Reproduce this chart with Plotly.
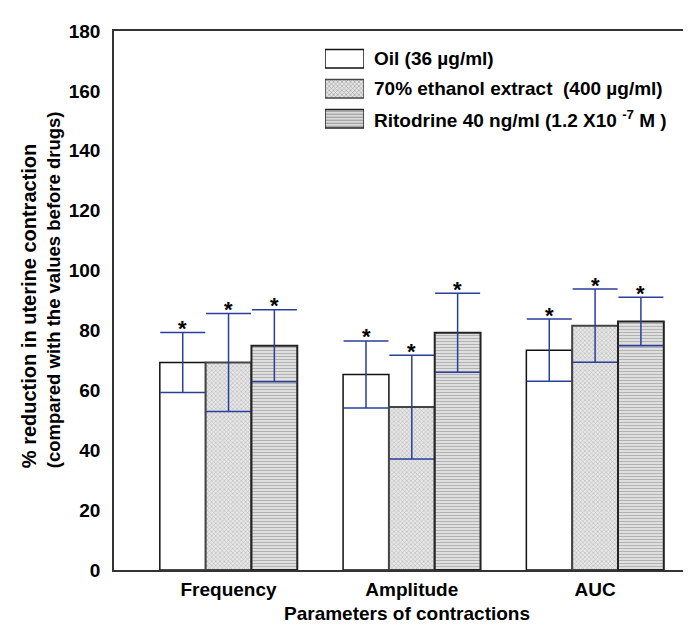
import plotly.graph_objects as go

# ---- data ----
categories = ["Frequency", "Amplitude", "AUC"]
series_names = ["Oil (36 µg/ml)", "70% ethanol extract &nbsp;(400 µg/ml)",
                "Ritodrine 40 ng/ml (1.2 X10 <sup>-7</sup> M )"]
oil_mean = [69.3, 65.3, 73.4]
oil_sd = [10.0, 11.2, 10.4]
ethanol_mean = [69.3, 54.4, 81.6]
ethanol_sd = [16.4, 17.3, 12.2]
ritodrine_mean = [74.9, 79.2, 83.0]
ritodrine_sd = [12.0, 13.2, 8.1]
significance = [["*", "*", "*"], ["*", "*", "*"], ["*", "*", "*"]]  # per series, per category
y_ticks = [0, 20, 40, 60, 80, 100, 120, 140, 160, 180]
y_title_lines = ["% reduction in uterine contraction", "(compared with the values before drugs)"]
x_title = "Parameters of contractions"

means = [oil_mean, ethanol_mean, ritodrine_mean]
sds = [oil_sd, ethanol_sd, ritodrine_sd]

FONT = "Arial, Liberation Sans, sans-serif"
ERR = "#2a3f9a"

styles = [
    dict(color="white", pattern=dict(shape=""), line=dict(color="#111111", width=1.5)),
    dict(color="#e6e6e6", pattern=dict(shape="x", size=3, solidity=0.35, fgcolor="#8a8a8a", bgcolor="#e6e6e6"),
         line=dict(color="#444444", width=2)),
    dict(color="#e2e2e2", pattern=dict(shape="-", size=3, solidity=0.4, fgcolor="#808080", bgcolor="#e4e4e4"),
         line=dict(color="#222222", width=2)),
]

xpos = list(range(len(categories)))
bar_w = 0.25
offsets = [-bar_w, 0, bar_w]

fig = go.Figure()
for j in range(3):
    fig.add_trace(go.Bar(
        x=xpos, y=means[j], name=series_names[j], showlegend=False,
        marker=dict(color=styles[j]["color"], pattern=styles[j]["pattern"], line=styles[j]["line"]),
        error_y=dict(type="data", array=sds[j], visible=True, color=ERR, thickness=1.5, width=22.5),
    ))

# significance stars
for j in range(3):
    for i in range(len(categories)):
        fig.add_annotation(x=xpos[i] + offsets[j], y=means[j][i] + sds[j][i],
                           text="<b>%s</b>" % significance[j][i], showarrow=False,
                           yanchor="middle", yshift=4, font=dict(family=FONT, size=22, color="black"))

# legend swatches (bars on an overlay axis)
fig.add_trace(go.Bar(
    x=[1, 1, 1], y=[0, 1, 2], orientation="h", base=0, width=0.62, showlegend=False,
    xaxis="x2", yaxis="y2", hoverinfo="skip",
    marker=dict(color=[s["color"] for s in styles],
                pattern=dict(shape=["", "x", "-"], size=3, solidity=[0.35, 0.35, 0.4],
                             fgcolor=["#ffffff", "#8a8a8a", "#808080"],
                             bgcolor=["#ffffff", "#e6e6e6", "#e4e4e4"]),
                line=dict(color=["#111111", "#444444", "#222222"], width=1.5)),
))
for j in range(3):
    fig.add_annotation(xref="paper", yref="y2", x=0.441, y=j, text="<b>%s</b>" % series_names[j],
                       showarrow=False, xanchor="left", yanchor="middle",
                       font=dict(family=FONT, size=19, color="black"))

# y-axis title (two lines, start-aligned)
fig.add_annotation(xref="paper", yref="paper", x=-0.124, y=0.52, textangle=-90, align="left",
                   xanchor="center", yanchor="middle", showarrow=False,
                   text="<b><span style='font-size:20px'>%s</span><br>"
                        "<span style='font-size:18.5px'>%s</span></b>" % tuple(y_title_lines),
                   font=dict(family=FONT, size=19, color="black"))

# x-axis title
fig.add_annotation(xref="paper", yref="paper", x=0.5, y=-0.081, xanchor="center", yanchor="middle",
                   showarrow=False, text="<b>%s</b>" % x_title,
                   font=dict(family=FONT, size=19, color="black"))

fig.update_layout(
    width=691, height=624,
    margin=dict(l=106, r=0, t=23, b=62),
    paper_bgcolor="white", plot_bgcolor="white",
    barmode="group", bargap=0.25, bargroupgap=0,
    font=dict(family=FONT, size=19, color="black"),
    xaxis=dict(range=[-0.625, 2.567], tickvals=xpos, ticktext=["<b>%s</b>" % c for c in categories],
               showgrid=False, zeroline=False, showline=True, linecolor="#333333", linewidth=1.5,
               mirror=True, ticks="", ticklabelstandoff=1, tickfont=dict(size=19)),
    yaxis=dict(range=[0, 180], tickvals=y_ticks, ticktext=["<b>%d</b>" % v for v in y_ticks],
               showgrid=False, zeroline=False, showline=True, linecolor="#333333", linewidth=1.5,
               ticks="", ticklabelstandoff=8, tickfont=dict(size=19)),
    xaxis2=dict(domain=[0.3607, 0.4274], range=[0, 1], visible=False, anchor="y2"),
    yaxis2=dict(domain=[0.8093, 0.9764], range=[2.5, -0.5], visible=False, anchor="x2"),
)

fig.write_html("out.html")
